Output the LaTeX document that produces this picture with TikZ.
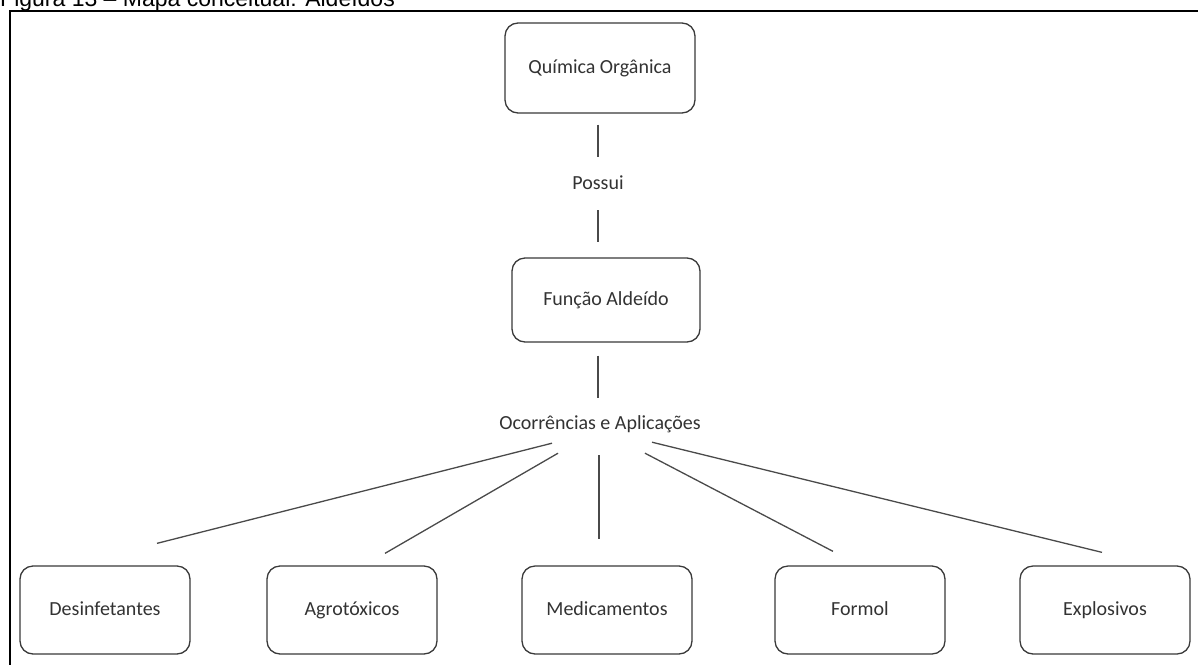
\documentclass[tikz,border=0pt]{standalone}
\usepackage{fontspec}
\setmainfont{Carlito}
\newfontfamily\captionfont{Liberation Sans}
\usetikzlibrary{calc}
\definecolor{boxgray}{HTML}{3A3A3A}
\definecolor{textgray}{HTML}{333333}
\definecolor{linegray}{HTML}{4A4A4A}
\begin{document}
\begin{tikzpicture}[x=1pt,y=-1pt,
  concept/.style={draw=boxgray, line width=1.3pt, rounded corners=13pt,
    minimum width=170pt, minimum height=88pt, inner sep=0pt,
    text height=14pt, text depth=4pt,
    font=\fontsize{20}{24}\selectfont, text=textgray},
  linkword/.style={inner sep=0pt, minimum height=30pt,
    font=\fontsize{20}{24}\selectfont, text=textgray},
  link/.style={draw=linegray, line width=1.3pt}]
\useasboundingbox (0,0) rectangle (1198,664);
\fill[white] (0,0) rectangle (1198,664);

% caption above the frame
\node[font=\captionfont\fontsize{23}{27}\selectfont, anchor=base west,
  inner sep=0pt] (cap) at (0,6) {Figura 13 – Mapa conceitual: Aldeídos};

% frame
\draw[line width=2pt] (10,670) -- (10,11) -- (1205,11);

% concepts
\node[concept, minimum width=190pt, minimum height=90pt] (qo) at (600,68) {Química Orgânica};
\node[linkword] (possui) at (598,183) {Possui};
\node[concept, minimum width=188pt, minimum height=84pt] (fa) at (606,300) {Função Aldeído};
\node[linkword] (oc) at (600,424) {Ocorrências e Aplicações};

\node[concept] (des) at (105,610) {Desinfetantes};
\node[concept] (agr) at (352,610) {Agrotóxicos};
\node[concept] (med) at (607,610) {Medicamentos};
\node[concept] (for) at (860,610) {Formol};
\node[concept] (exp) at (1105,610) {Explosivos};

% links
\draw[link, shorten <=11pt, shorten >=11pt] (qo.south -| possui.north) -- (possui.north);
\draw[link, shorten <=12pt, shorten >=15pt] (possui.south) -- (fa.north -| possui.south);
\draw[link, shorten <=13pt, shorten >=11pt] (fa.south -| 598,0) -- (oc.north -| 598,0);

\draw[link] ($(oc.south)+(-48,4)$) -- ($(des.north)+(52,-22)$);
\draw[link] ($(oc.south)+(-42,14)$) -- ($(agr.north)+(33,-12)$);
\draw[link] ($(oc.south)+(-1,16)$) -- ($(med.north)+(-8,-26)$);
\draw[link] ($(oc.south)+(45,14)$) -- ($(for.north)+(-27,-14)$);
\draw[link] ($(oc.south)+(52,3)$) -- ($(exp.north)+(-3,-13)$);
\end{tikzpicture}
\end{document}
